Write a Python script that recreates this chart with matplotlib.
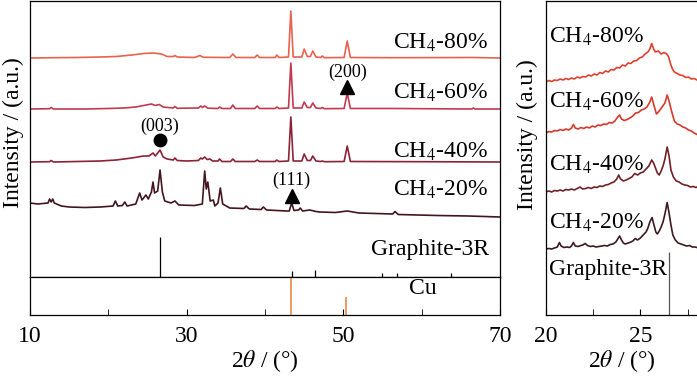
import matplotlib
matplotlib.use("Agg")
import matplotlib.pyplot as plt
import numpy as np

plt.rcParams["font.family"] = ["Liberation Serif", "DejaVu Serif"]
plt.rcParams["mathtext.fontset"] = "stix"
plt.rcParams["font.size"] = 17

# ---------------- data: left panel (2theta / intensity a.u.) ----------------
tt_80 = [10, 13, 16, 19, 21, 23, 24.5, 25.7, 26.8, 27.5, 28.3, 28.5, 28.8, 31, 31.7, 32.1,
         35.5, 35.9, 36.3, 38.7, 39.0, 39.3, 41.3, 41.5, 41.8, 43.0, 43.3, 43.6, 44.7, 45.0,
         45.4, 45.8, 46.1, 46.5, 47.1, 47.3, 47.6, 50.1, 50.5, 50.9, 56.6, 66.6, 70]
i_80 = [0, 0.3, 0.5, 1, 1.5, 3, 4.5, 5, 4, 1.5, 1.5, 2.5, 1, 0.5, 2.5, 0.7,
        0.5, 4, 0.5, 0.5, 3, 0.5, 0.5, 3, 0.5, 1, 47, 1, 1, 9,
        1.5, 1.5, 7, 1, 0.5, 2, 0.3, 0.5, 17, 0.5, 0.3, 0.5, 0]

tt_60 = [10, 12.5, 12.7, 13, 17, 20, 22, 23.5, 24.5, 25.5, 26.0, 26.5, 27.0, 28.3, 28.5,
         28.8, 31.5, 31.8, 32.0, 32.3, 32.7, 34.0, 34.2, 34.5, 35.6, 35.9, 36.2, 38.7, 39.0,
         39.3, 41.3, 41.5, 41.8, 43.0, 43.3, 43.6, 44.7, 45.0, 45.4, 45.8, 46.1, 46.5, 47.1,
         47.3, 47.6, 50.1, 50.5, 50.9, 56.6, 66.4, 66.6, 66.8, 70]
i_60 = [0, 0.3, 1.5, 0, 0, 0.5, 1, 2, 3.5, 5, 3.5, 4.5, 2, 1, 2.5,
        0.7, 1, 3, 1.5, 3, 0.8, 0.5, 2, 0.5, 0.5, 4, 0.5, 0.5, 3,
        0.5, 0.5, 2, 0.5, 1, 46, 1, 1, 7, 1.5, 1.5, 6, 1, 0.5,
        1.5, 0.3, 0.5, 16, 0.5, 0.5, 0, 1, 0, 0]

tt_40 = [10, 12.5, 12.7, 13, 16, 19, 21, 23, 24.5, 25.2, 25.7, 26.0, 26.6, 27.0, 27.5,
         28.3, 28.5, 28.8, 30, 31.5, 31.8, 32.0, 32.3, 32.6, 33.0, 33.3, 34.0, 34.2, 34.5,
         35.6, 35.9, 36.2, 38.7, 39.0, 39.3, 41.3, 41.5, 41.8, 43.0, 43.3, 43.6, 44.7, 45.0,
         45.4, 45.8, 46.1, 46.5, 47.1, 47.3, 47.6, 50.1, 50.5, 50.9, 60, 70]
i_40 = [0, 0.3, 1.5, 0, 0.5, 1, 2, 4, 6, 6, 9, 6, 12, 5, 3,
        2, 4, 1.5, 1, 1.5, 4, 3, 5, 2.5, 3, 1, 1, 3, 0.5,
        0.5, 3, 0.5, 0.5, 2, 0.5, 0.5, 2, 0.5, 1, 45, 1, 1, 8,
        1.5, 1.5, 6, 1, 0.5, 1, 0.3, 0.5, 16, 0.5, 0.3, 0]

tt_20 = [10, 11, 12.3, 12.5, 12.7, 12.9, 13.1, 14, 15, 17, 19, 20.6, 20.9, 21.2, 21.8,
         22.1, 22.4, 23.5, 24.0, 24.3, 24.8, 25.1, 25.5, 25.7, 25.9, 26.3, 26.6, 26.9, 27.2,
         28, 28.5, 29, 31, 32.0, 32.3, 32.5, 32.7, 33.0, 33.4, 33.6, 34.0, 34.3, 34.6, 35.5,
         37.3, 37.6, 38, 39.5, 39.8, 40.2, 42.8, 43.1, 43.4, 43.7, 44.3, 44.5, 44.8, 45.7,
         46.5, 47, 49, 50.5, 52, 56.3, 56.6, 57, 62, 66, 70]
i_20 = [14, 13, 14, 18, 15, 18, 14, 11, 10, 9.5, 10, 11, 16, 11, 11.5,
        15, 11, 13, 24, 17, 22, 18, 25, 35, 24, 26, 47, 25, 16,
        14, 16, 12, 11.5, 13, 46, 28, 35, 16, 17, 11, 14, 29, 13, 9,
        8.5, 11, 8, 7.5, 10, 7, 6, 6, 14, 6.5, 7, 9, 6, 7,
        5.5, 5, 4.5, 6, 4, 3, 5.5, 2.5, 1.5, 1, 0]

g3r_tt = [26.6, 43.4, 46.4, 54.9, 56.8, 63.8]
g3r_i = [40, 6, 7, 4, 4, 4]
cu_tt = [43.3, 50.4]
cu_i = [38, 18]

# ---------------- data: right panel (zoom 20-28 deg) ----------------
z80_tt = [20.0, 20.15, 20.3, 20.45, 20.6, 20.75, 20.9, 21.05, 21.2, 21.35, 21.5, 21.65, 21.8,
          21.95, 22.1, 22.25, 22.4, 22.55, 22.7, 22.85, 23.0, 23.15, 23.3, 23.45, 23.6, 23.75,
          23.9, 24.05, 24.2, 24.35, 24.5, 24.65, 24.8, 24.95, 25.1, 25.25, 25.4, 25.5, 25.6,
          25.7, 25.8, 25.95, 26.1, 26.25, 26.4, 26.5, 26.6, 26.7, 26.8, 26.95, 27.1, 27.25,
          27.4, 27.55, 27.7, 27.85, 28.0]
z80_i = [0, 1.5, 0.5, 2, 1.5, 3, 2, 3.5, 2.5, 4, 3, 5, 4,
         5.5, 5, 7, 6, 8, 7, 9.5, 8.5, 11, 10, 12.5, 12, 14.5,
         14, 17, 16, 19, 18.5, 21, 21.5, 24, 25, 28, 30, 33, 38.5,
         33, 30, 31, 28, 29.5, 28, 25, 18, 13, 10, 8.5, 7, 6.5,
         4.5, 5, 3, 3.5, 2]

z60_tt = [20.0, 20.15, 20.3, 20.45, 20.6, 20.75, 20.9, 21.05, 21.2, 21.35, 21.45, 21.55, 21.7,
          21.85, 22.0, 22.15, 22.3, 22.45, 22.6, 22.75, 22.9, 23.05, 23.2, 23.35, 23.5, 23.65,
          23.8, 23.9, 24.0, 24.15, 24.3, 24.45, 24.6, 24.75, 24.9, 25.05, 25.2, 25.35, 25.5,
          25.6, 25.7, 25.85, 26.0, 26.15, 26.3, 26.42, 26.52, 26.65, 26.8, 26.95, 27.1, 27.25,
          27.4, 27.55, 27.7, 27.85, 28.0]
z60_i = [0, 1.5, 1, 2.5, 2, 3.5, 2.5, 4, 3, 5, 8.5, 5, 4,
         5.5, 4.5, 6, 5, 7, 6, 8, 7.5, 9, 8.5, 10.5, 10, 12,
         16, 18, 14, 12.5, 13.5, 15, 17, 20, 20.5, 23, 24, 26, 31,
         36, 29, 19, 22, 26, 30, 38, 32, 22, 12, 9, 8, 6,
         5, 3, 2, 0, -1.5]

z40_tt = [20.0, 20.15, 20.3, 20.45, 20.6, 20.75, 20.9, 21.05, 21.2, 21.35, 21.5, 21.65, 21.8,
          21.95, 22.1, 22.25, 22.4, 22.55, 22.7, 22.85, 23.0, 23.15, 23.3, 23.45, 23.6, 23.75,
          23.85, 23.95, 24.1, 24.25, 24.4, 24.55, 24.7, 24.85, 25.0, 25.15, 25.3, 25.45, 25.6,
          25.7, 25.8, 25.9, 26.0, 26.1, 26.2, 26.3, 26.42, 26.52, 26.62, 26.75, 26.9, 27.05,
          27.2, 27.35, 27.5, 27.65, 27.8, 27.95, 28.0]
z40_i = [0, 1, 0, 1.5, 1, 2, 1, 2.5, 2, 3, 2, 3.5, 5,
         3, 3.5, 4.5, 3.5, 5, 4.5, 6, 5.5, 7, 7.5, 9, 10, 13,
         17, 13, 11, 12, 13.5, 15, 18.5, 17, 19, 20, 23, 26, 32,
         29, 24, 19, 17, 21, 26, 33, 45, 36, 22, 15, 11, 10,
         8, 7, 6.5, 5, 5.5, 4.5, 5]

z20_tt = [20.0, 20.15, 20.3, 20.45, 20.6, 20.71, 20.8, 20.95, 21.1, 21.25, 21.35, 21.45, 21.55,
          21.7, 21.85, 21.95, 22.07, 22.2, 22.35, 22.5, 22.65, 22.8, 22.95, 23.1, 23.25, 23.4,
          23.55, 23.7, 23.8, 23.9, 24.0, 24.1, 24.2, 24.35, 24.5, 24.6, 24.73, 24.85, 25.0,
          25.1, 25.2, 25.3, 25.4, 25.5, 25.62, 25.72, 25.82, 25.9, 26.0, 26.1, 26.2, 26.3,
          26.42, 26.52, 26.62, 26.72, 26.85, 27.0, 27.15, 27.3, 27.45, 27.6, 27.75, 27.9, 28.0]
z20_i = [0, 0.5, 0, 1, 2, 6.5, 3, 1.5, 2, 1.5, 3, 6.5, 3,
         2.5, 3.5, 4, 5.5, 3.5, 2.5, 3, 2, 2.5, 3, 3.5, 3, 4.5,
         5, 7, 10, 13, 9, 6, 5, 6, 7, 8, 10.5, 9, 11,
         13, 15, 17, 21, 27, 31.5, 24, 17, 15, 18, 22, 27, 35,
         46.5, 36, 24, 14, 9, 6, 5, 4, 3, 3.5, 2, 2, 1.5]
z_g3r_tt = [26.54]
z_g3r_i = [63]

colors_l = {"80": "#e8624e", "60": "#c23a50", "40": "#8a2238", "20": "#42161f"}
colors_r = {"80": "#e0402c", "60": "#d63a2c", "40": "#6e2228", "20": "#3c1a20"}
cu_color = "#e8803a"

fig = plt.figure(figsize=(6.97, 3.78), dpi=100)
ax_top = fig.add_axes([30 / 697, 1 - 277 / 378, 470 / 697, 276 / 378])
ax_cu = fig.add_axes([30 / 697, 1 - 315 / 378, 470 / 697, 38 / 378])
ax_z = fig.add_axes([546 / 697, 1 - 315 / 378, 151 / 697, 314 / 378])

# left, main traces (stacked with offsets)
for key, tt, inten, off in [("80", tt_80, i_80, 219), ("60", tt_60, i_60, 168),
                            ("40", tt_40, i_40, 115), ("20", tt_20, i_20, 60)]:
    ax_top.plot(tt, np.array(inten) + off, color=colors_l[key], lw=1.2)
ax_top.vlines(g3r_tt, 0, g3r_i, color="black", lw=0.9)
ax_top.set_xlim(10, 70)
ax_top.set_ylim(0, 276)
ax_top.set_xticks([])
ax_top.set_yticks([])

labels_l = [("CH$_4$-80%", 234), ("CH$_4$-60%", 184), ("CH$_4$-40%", 125), ("CH$_4$-20%", 87)]
for txt, y in labels_l:
    ax_top.text(68.4, y, txt, ha="right", va="center", fontsize=17)
ax_top.text(68.6, 27, "Graphite-3R", ha="right", va="center", fontsize=17)

# peak markers
ax_top.plot([50.5], [190], marker="^", color="black", ms=10, ls="none")
ax_top.text(50.5, 205, "(200)", ha="center", va="center", fontsize=13)
ax_top.plot([26.6], [137], marker="o", color="black", ms=9, ls="none")
ax_top.text(26.6, 151, "(003)", ha="center", va="center", fontsize=13)
ax_top.plot([43.4], [81], marker="^", color="black", ms=10, ls="none")
ax_top.text(43.4, 97, "(111)", ha="center", va="center", fontsize=13)

# Cu reference
ax_cu.vlines(cu_tt, 0, cu_i, color=cu_color, lw=1.1)
ax_cu.set_xlim(10, 70)
ax_cu.set_ylim(0, 38)
ax_cu.set_yticks([])
ax_cu.set_xticks([10, 30, 50, 70])
ax_cu.set_xticks([20, 40, 60], minor=True)
ax_cu.tick_params(axis="x", which="both", direction="in", length=4, labelsize=17, pad=8)
ax_cu.text(60.2, 27, "Cu", ha="center", va="center", fontsize=17)
ax_cu.set_xlabel("2$\\theta$ / (°)", fontsize=17, labelpad=1)
fig.text(13 / 697, 1 - 133 / 378, "Intensity / (a.u.)", rotation=90,
         ha="center", va="center", fontsize=17)

# right zoom panel
for key, tt, inten, off in [("80", z80_tt, z80_i, 233), ("60", z60_tt, z60_i, 182),
                            ("40", z40_tt, z40_i, 123), ("20", z20_tt, z20_i, 66)]:
    ax_z.plot(tt, np.array(inten) + off, color=colors_r[key], lw=1.2)
ax_z.vlines(z_g3r_tt, 0, z_g3r_i, color="#555555", lw=0.9)
ax_z.set_xlim(20, 28)
ax_z.set_ylim(0, 314)
ax_z.set_yticks([])
ax_z.set_xticks([20, 25])
ax_z.set_xticks([22.5, 27.5], minor=True)
ax_z.tick_params(axis="x", which="both", direction="in", length=4, labelsize=17, pad=8)
ax_z.spines["right"].set_visible(False)
labels_r = [("CH$_4$-80%", 278), ("CH$_4$-60%", 213), ("CH$_4$-40%", 150), ("CH$_4$-20%", 92)]
for txt, y in labels_r:
    ax_z.text(20.15, y, txt, ha="left", va="center", fontsize=17)
ax_z.text(20.15, 45, "Graphite-3R", ha="left", va="center", fontsize=17)
ax_z.set_xlabel("2$\\theta$ / (°)", fontsize=17, labelpad=1)
fig.text(527 / 697, 1 - 135 / 378, "Intensity / (a.u.)", rotation=90,
         ha="center", va="center", fontsize=17)

for ax in (ax_top, ax_cu, ax_z):
    for s in ax.spines.values():
        s.set_linewidth(0.9)

fig.savefig("out.png", dpi=100, facecolor="white")
